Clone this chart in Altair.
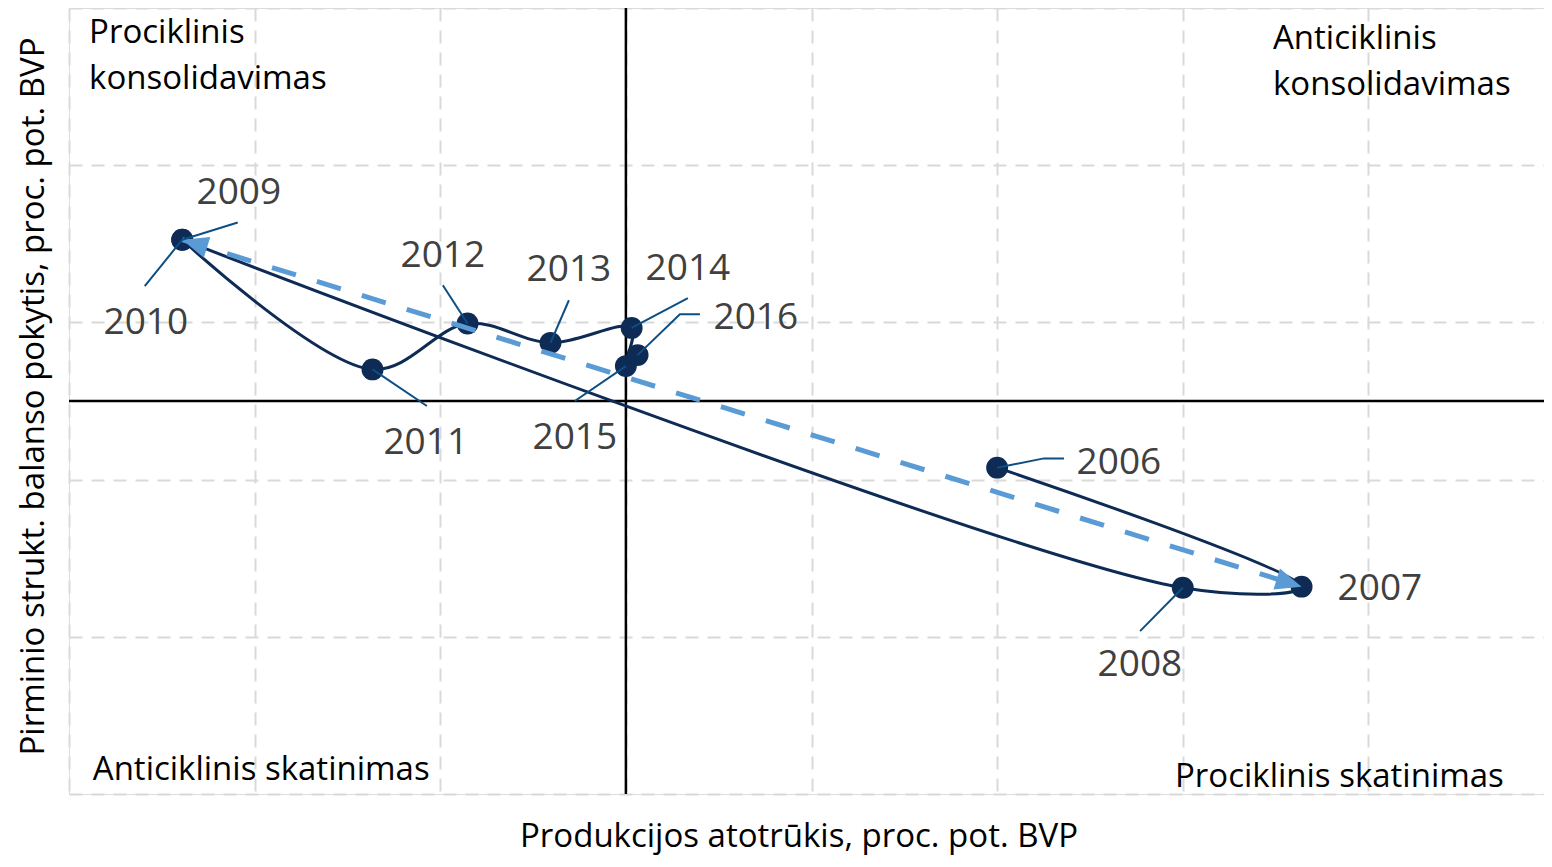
import math
import altair as alt
import pandas as pd

# ---- data ----
years = ["2006", "2007", "2008", "2009", "2010", "2011", "2012", "2013", "2014", "2015", "2016"]
output_gap = [2.00, 3.64, 3.00, -2.39, -2.39, -1.365, -0.853, -0.406, 0.031, 0.0, 0.063]
balance_change = [-0.424, -1.181, -1.188, 1.026, 1.026, 0.201, 0.493, 0.370, 0.465, 0.222, 0.292]

x_ticks = [-3, -2, -1, 0, 1, 2, 3, 4, 5]
y_ticks = [-2.5, -1.5, -0.5, 0.5, 1.5, 2.5]

x_title = "Produkcijos atotrūkis, proc. pot. BVP"
y_title = "Pirminio strukt. balanso pokytis, proc. pot. BVP"

# annotation placement (data units)
label_x = [2.656, 4.062, 2.769, -2.085, -2.586, -1.078, -0.986, -0.307, 0.334, -0.275, 0.700]
label_y = [-0.393, -1.199, -1.681, 1.326, 0.495, -0.266, 0.920, 0.831, 0.838, -0.235, 0.527]
leader_ends = {
    "2006": [(2.252, -0.365), (2.360, -0.365)],
    "2008": [(2.770, -1.464)],
    "2009": [(-2.091, 1.136)],
    "2010": [(-2.592, 0.730)],
    "2011": [(-1.072, -0.032)],
    "2012": [(-0.986, 0.736)],
    "2013": [(-0.307, 0.641)],
    "2014": [(0.334, 0.654)],
    "2015": [(-0.275, 0.0)],
    "2016": [(0.291, 0.552), (0.399, 0.552)],
}
quad_text = ["Prociklinis\nkonsolidavimas", "Anticiklinis\nkonsolidavimas",
             "Anticiklinis skatinimas", "Prociklinis skatinimas"]
quad_x = [-2.892, 3.486, -2.872, 2.958]
quad_y = [2.280, 2.240, -2.411, -2.456]

trend_from, trend_to = "2009", "2007"

# ---- layout / style ----
X_MIN, X_MAX = -3.0, 4.946   # right edge of the visible plot
W, H = 1475, 786
FONT = "Open Sans"
NAVY = "#0d2b55"
LEADER = "#0b4f85"
TREND = "#5b9bd5"
GRID = dict(grid=True, gridColor="#d9d9d9", gridWidth=2, gridDash=[13, 9],
            labels=False, ticks=False, domain=False,
            titleFont=FONT, titleFontSize=33, titleFontWeight="normal", titleColor="black")

xs = alt.Scale(domain=[X_MIN, X_MAX], nice=False, zero=False)
ys = alt.Scale(domain=[-2.5, 2.5], nice=False, zero=False)
xaxis = alt.Axis(values=x_ticks, title=x_title, titlePadding=26, titleX=729.5, **GRID)
yaxis = alt.Axis(values=y_ticks, title=y_title, titlePadding=19, titleY=388, **GRID)


def X(field="x"):
    return alt.X(f"{field}:Q", scale=xs, axis=xaxis)


def Y(field="y"):
    return alt.Y(f"{field}:Q", scale=ys, axis=yaxis)


pts = pd.DataFrame({"year": years, "x": output_gap, "y": balance_change,
                    "idx": list(range(len(years)))})
labels = pd.DataFrame({"year": years, "x": label_x, "y": label_y})

rows = []
for yr, ends in leader_ends.items():
    i = years.index(yr)
    rows.append({"year": yr, "seq": 0, "x": output_gap[i], "y": balance_change[i]})
    for k, (ex, ey) in enumerate(ends):
        rows.append({"year": yr, "seq": k + 1, "x": ex, "y": ey})
leaders = pd.DataFrame(rows)

i_a, i_b = years.index(trend_from), years.index(trend_to)
trend = pd.DataFrame({"x": [output_gap[i_a], output_gap[i_b]],
                      "y": [balance_change[i_a], balance_change[i_b]],
                      "seq": [0, 1]})
pxu, pyu = W / (X_MAX - X_MIN), H / 5.0
dxp = (output_gap[i_b] - output_gap[i_a]) * pxu
dyp = -(balance_change[i_b] - balance_change[i_a]) * pyu
ang = math.degrees(math.atan2(dyp, dxp)) % 360
arrows = pd.DataFrame({"x": [output_gap[i_b], output_gap[i_a]],
                       "y": [balance_change[i_b], balance_change[i_a]],
                       "angle": [ang, (ang + 180) % 360]})

quads = pd.DataFrame({"t": quad_text, "x": quad_x, "y": quad_y})
zero = pd.DataFrame({"x": [0], "y": [0]})

vzero = alt.Chart(zero).mark_rule(color="black", strokeWidth=2.5).encode(x=X())
hzero = alt.Chart(zero).mark_rule(color="black", strokeWidth=2.5).encode(y=Y())

line = alt.Chart(pts).mark_line(color=NAVY, strokeWidth=3, interpolate="catmull-rom").encode(
    x=X(), y=Y(), order=alt.Order("idx:Q"))
dots = alt.Chart(pts).mark_circle(color=NAVY, size=480, opacity=1).encode(x=X(), y=Y())

trend_line = alt.Chart(trend).mark_line(color=TREND, strokeWidth=5, strokeDash=[25, 22]).encode(
    x=X(), y=Y(), order=alt.Order("seq:Q"))
heads = alt.Chart(arrows).mark_point(shape="M0,0L-1,-0.42L-1,0.42Z", filled=True, size=2704,
                                     color=TREND, opacity=1, strokeWidth=0).encode(
    x=X(), y=Y(), angle=alt.Angle("angle:Q", scale=None))

lead = alt.Chart(leaders).mark_line(color=LEADER, strokeWidth=2).encode(
    x=X(), y=Y(), detail="year:N", order=alt.Order("seq:Q"))

year_text = alt.Chart(labels).mark_text(font=FONT, fontSize=37, color="#404040",
                                        align="center", baseline="middle").encode(
    x=X(), y=Y(), text="year:N")

quad = alt.Chart(quads).mark_text(font=FONT, fontSize=33, color="black", align="left",
                                  baseline="alphabetic", lineBreak="\n", lineHeight=46.6).encode(
    x=X(), y=Y(), text="t:N")

chart = alt.layer(vzero, hzero, line, dots, trend_line, heads, lead, year_text, quad).properties(
    width=W, height=H,
    autosize=alt.AutoSizeParams(type="none"),
    padding={"left": 61, "top": 0, "right": 0, "bottom": 65},
).configure_view(stroke=None).configure(background="white")

chart.save("out.html", embed_options={"renderer": "svg", "actions": False})
